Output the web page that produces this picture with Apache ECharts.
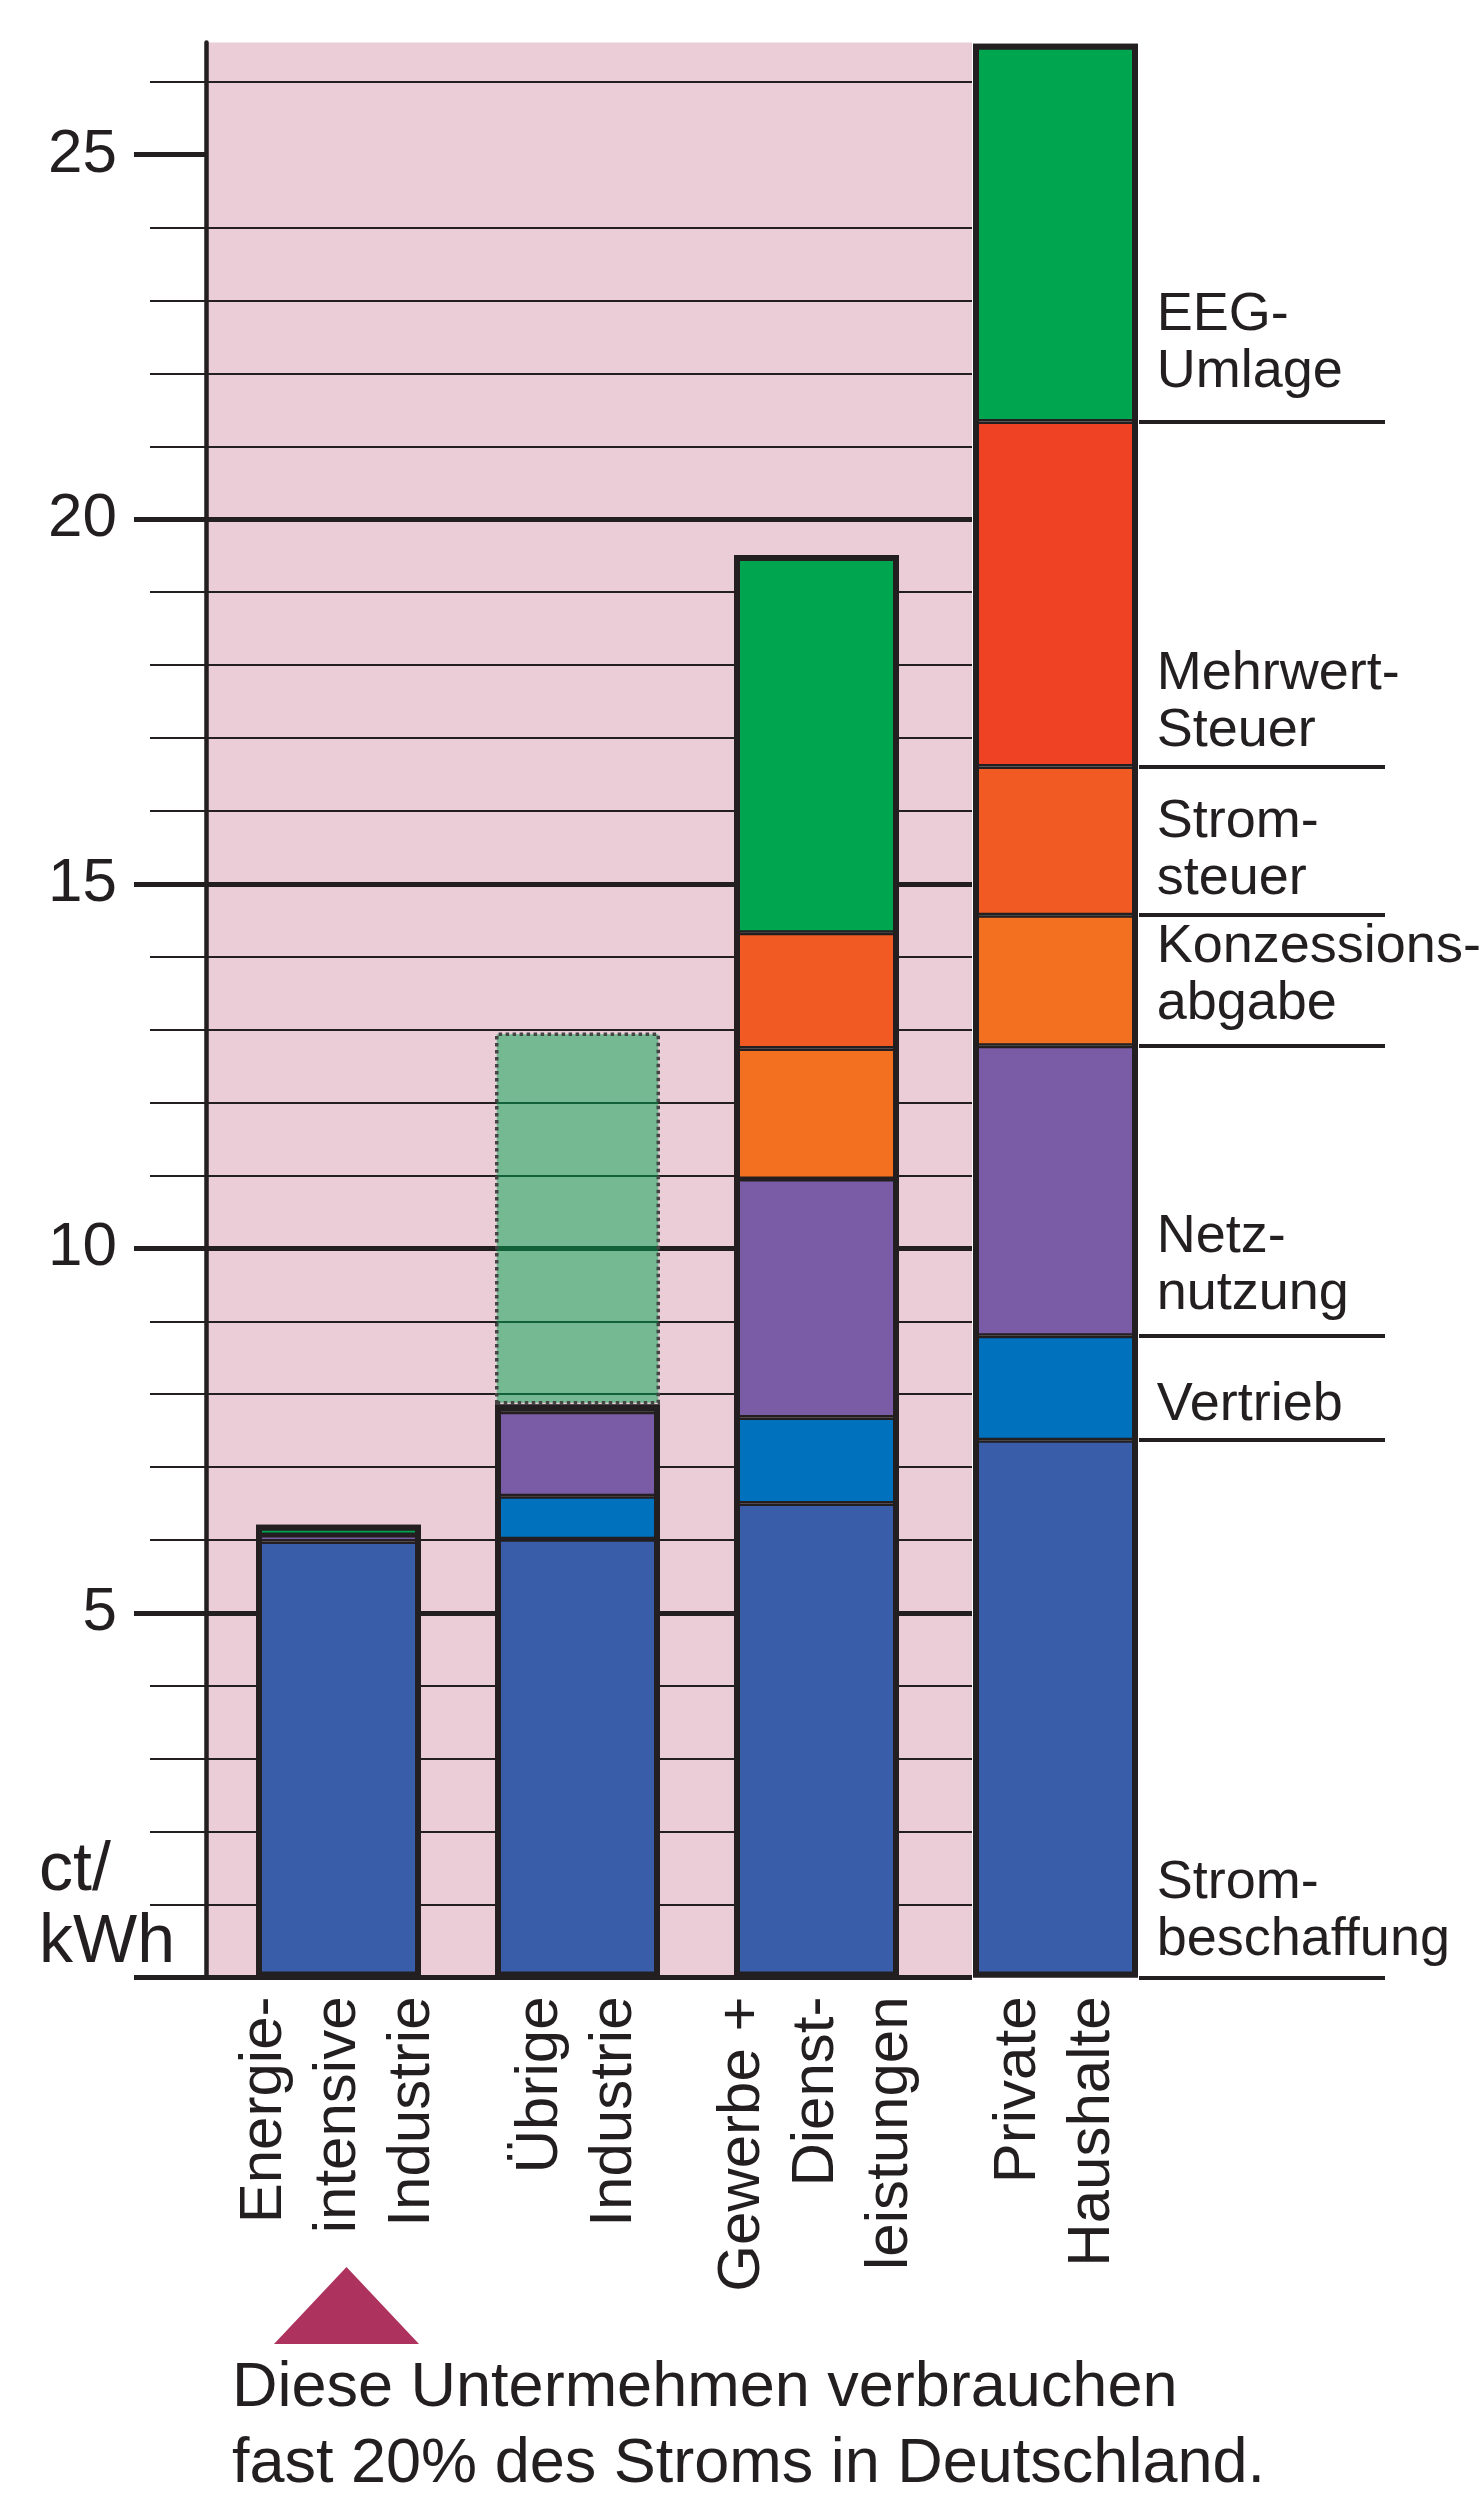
<!DOCTYPE html>
<html>
<head>
<meta charset="utf-8">
<script src="https://cdn.jsdelivr.net/npm/echarts@6/dist/echarts.min.js"></script>
<style>
  html, body { margin: 0; padding: 0; background: #ffffff; }
  #chart { width: 1484px; height: 2493px; }
</style>
</head>
<body>
<div id="chart"></div>
<script>
// Electricity price components by consumer group, ct/kWh
const categories = ['Energie-\nintensive\nIndustrie', 'Übrige\nIndustrie', 'Gewerbe +\nDienst-\nleistungen', 'Private\nHaushalte'];
const componentNames = ['Strombeschaffung', 'Vertrieb', 'Netznutzung', 'Konzessionsabgabe', 'Stromsteuer', 'Mehrwertsteuer', 'EEG-Umlage'];
const componentLabels = ['Strom-\nbeschaffung', 'Vertrieb', 'Netz-\nnutzung', 'Konzessions-\nabgabe', 'Strom-\nsteuer', 'Mehrwert-\nSteuer', 'EEG-\nUmlage'];

const strombeschaffung  = [5.98, 6.01, 6.50, 7.37];
const vertrieb          = [null, 0.59, 1.18, 1.43];
const netznutzung       = [0.09, 1.16, 3.27, 3.98];
const konzessionsabgabe = [null, null, 1.79, 1.79];
const stromsteuer       = [null, null, 1.59, 2.04];
const mehrwertsteuer    = [null, null, null, 4.73];
const eegUmlage         = [0.14, 0.10, 5.18, 5.18];
// EEG share not charged to the rest of industry
const eegBefreit        = [null, 5.10, null, null];

const yTicks = [0, 5, 10, 15, 20, 25];
const yTickLabels = [5, 10, 15, 20, 25];
const yMax = 26.54;

const components = [strombeschaffung, vertrieb, netznutzung, konzessionsabgabe, stromsteuer, mehrwertsteuer, eegUmlage];
const colors = ['#3A5DA9', '#0071BC', '#7A5BA5', '#F37021', '#F15A22', '#EF4123', '#00A550'];
const ink = '#231F20';
const font = '"Liberation Sans", Arial, Helvetica, sans-serif';

const plotTop = 42.4;
const plotBottom = 2493 - 1977.5;

// totals of the charged components (outline of each bar)
const paidTotals = categories.map((_, i) =>
  components.reduce((s, arr) => s + (arr[i] || 0), 0));

// boundaries of the household bar, used for the side captions
const hh = 3;
const hhBottoms = [];
let acc = 0;
components.forEach(arr => { hhBottoms.push(acc); acc += arr[hh] || 0; });
const captionLift = [9, 6.5, 13.5, 13.5, 8, 7, 20.5];

const series = components.map((arr, k) => ({
  name: componentNames[k],
  type: 'bar',
  xAxisIndex: 1, yAxisIndex: 1,
  stack: 'paid',
  barWidth: 165,
  barGap: '-100%',
  data: arr,
  itemStyle: { color: colors[k], borderColor: ink, borderWidth: 2.5 }
}));

series.push({
  name: 'EEG-Umlage (befreit)',
  type: 'bar',
  xAxisIndex: 1, yAxisIndex: 1,
  stack: 'paid',
  barWidth: 165,
  barGap: '-100%',
  data: eegBefreit,
  itemStyle: { color: 'rgba(0,165,80,0.5)', borderColor: '#444444', borderType: 'dotted', borderWidth: 3.5 }
});

series.push({
  name: 'Gesamt',
  type: 'bar',
  xAxisIndex: 1, yAxisIndex: 1,
  barWidth: 165,
  barGap: '-100%',
  data: paidTotals,
  z: 3,
  itemStyle: { color: 'rgba(0,0,0,0)', borderColor: ink, borderWidth: 6 }
});

series.push({
  name: 'Beschriftung',
  type: 'line',
  xAxisIndex: 2, yAxisIndex: 2,
  data: [],
  markLine: {
    silent: true,
    animation: false,
    symbol: ['none', 'none'],
    lineStyle: { color: ink, width: 4, type: 'solid' },
    label: {
      show: true,
      position: 'insideStartTop',
      fontFamily: font,
      fontSize: 54,
      lineHeight: 57,
      color: ink
    },
    data: componentLabels.map((txt, k) => ({
      yAxis: hhBottoms[k],
      label: { formatter: txt, distance: [17.7, captionLift[k]] }
    }))
  }
});

const chart = echarts.init(document.getElementById('chart'), null, { renderer: 'canvas' });

chart.setOption({
  animation: false,
  backgroundColor: '#ffffff',
  grid: [
    { left: 206, right: 512, top: plotTop, bottom: plotBottom, show: true, backgroundColor: '#EACDD7', borderWidth: 0 },
    { left: 219, right: 309, top: plotTop, bottom: plotBottom },
    { left: 1139, right: 99, top: plotTop, bottom: plotBottom }
  ],
  xAxis: [
    { gridIndex: 0, type: 'value', min: 0, max: 1, show: false },
    {
      gridIndex: 1, type: 'category', data: categories,
      axisLine: { show: false }, axisTick: { show: false }, splitLine: { show: false },
      axisLabel: {
        interval: 0, rotate: 90, margin: 19,
        fontFamily: font, fontSize: 60, lineHeight: 74, color: ink
      }
    },
    { gridIndex: 2, type: 'value', min: 0, max: 1, show: false }
  ],
  yAxis: [
    {
      gridIndex: 0, type: 'value', min: 0, max: yMax, interval: 5,
      axisLine: { show: true, lineStyle: { color: ink, width: 4.5 } },
      axisTick: { show: true, length: 72, customValues: yTicks, lineStyle: { color: ink, width: 5 } },
      minorTick: { show: true, splitNumber: 5, length: 56, lineStyle: { color: ink, width: 2.2 } },
      splitLine: { show: true, showMaxLine: false, lineStyle: { color: ink, width: 5 } },
      minorSplitLine: { show: true, lineStyle: { color: ink, width: 2.2 } },
      axisLabel: { customValues: yTickLabels, margin: 89, fontFamily: font, fontSize: 62, color: ink }
    },
    { gridIndex: 1, type: 'value', min: 0, max: yMax, show: false },
    { gridIndex: 2, type: 'value', min: 0, max: yMax, show: false }
  ],
  series: series
});

// unit, pointer and note below the first group
const cx = chart.convertToPixel({ xAxisIndex: 1 }, categories[0]) + 8;
chart.setOption({
  graphic: [
    {
      type: 'text', left: 39, top: 1835,
      style: { text: 'ct/\nkWh', font: '68px ' + font, lineHeight: 72, fill: ink }
    },
    {
      type: 'polygon',
      shape: { points: [[cx, 2267], [cx - 72.5, 2344], [cx + 72.5, 2344]] },
      style: { fill: '#AD325D' }
    },
    {
      type: 'text', left: 232, top: 2351,
      style: { text: 'Diese Untermehmen verbrauchen\nfast 20% des Stroms in Deutschland.', font: '63px ' + font, lineHeight: 76, fill: ink }
    }
  ]
});
</script>
</body>
</html>
